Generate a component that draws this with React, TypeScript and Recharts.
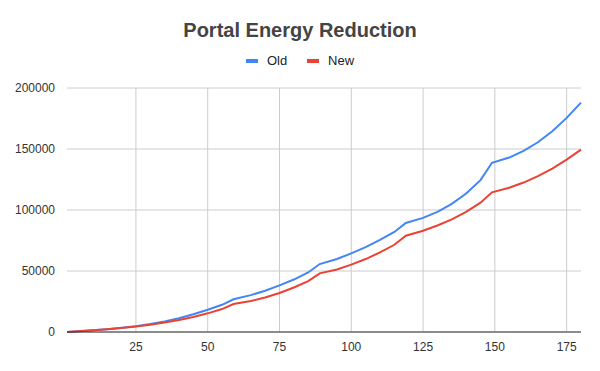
import { LineChart, Line, XAxis, YAxis, CartesianGrid } from 'recharts';

const levels = [1, 5, 10, 15, 20, 25, 30, 35, 40, 45, 50, 55, 59, 65, 70, 75, 80, 85, 89, 95, 100, 105, 110, 115, 119, 125, 130, 135, 140, 145, 149, 155, 160, 165, 170, 175, 180];

const oldEnergy = [100, 600, 1400, 2300, 3400, 4700, 6500, 8700, 11300, 14500, 18300, 22300, 26800, 30200, 33800, 38200, 43000, 48800, 55700, 59800, 64500, 69500, 75500, 82000, 89400, 93500, 98500, 105000, 113500, 124500, 138700, 143000, 148500, 155500, 164500, 175500, 188000];

const newEnergy = [100, 600, 1400, 2300, 3300, 4500, 5900, 7700, 9800, 12300, 15300, 18800, 22900, 25400, 28300, 32000, 36500, 41700, 48100, 51300, 55200, 59800, 65200, 71500, 78900, 83000, 87300, 92300, 98500, 106000, 114500, 118300, 122500, 127700, 134000, 141300, 149500];

const xTicks = [25, 50, 75, 100, 125, 150, 175];
const yTicks = [0, 50000, 100000, 150000, 200000];

const data = levels.map((x, i) => ({ x, old: oldEnergy[i], new: newEnergy[i] }));

const series = [
  { key: 'old', name: 'Old', color: '#4285F4' },
  { key: 'new', name: 'New', color: '#EA4335' },
];

const font = '"Liberation Sans", Arial, sans-serif';

function LegendBox() {
  return (
    <div style={{ position: 'absolute', top: 53, left: 0, width: 600, display: 'flex', justifyContent: 'center', gap: 20, fontFamily: font, fontSize: 13, color: '#222' }}>
      {series.map((s) => (
        <div key={s.key} style={{ display: 'flex', alignItems: 'center' }}>
          <span style={{ display: 'inline-block', width: 12, height: 4, background: s.color, marginRight: 9 }} />
          {s.name}
        </div>
      ))}
    </div>
  );
}

export default function App() {
  return (
    <div style={{ position: 'relative', width: 600, height: 371, background: '#fff' }}>
      <style>{'body{margin:0}'}</style>
      <div style={{ position: 'absolute', top: 19, left: 0, width: 600, textAlign: 'center', fontFamily: font, fontWeight: 700, fontSize: 20, color: '#444' }}>
        Portal Energy Reduction
      </div>
      <LegendBox />
      <LineChart width={600} height={371} data={data} margin={{ top: 88, right: 19, left: 0, bottom: 9 }}>
        <CartesianGrid stroke="#cccccc" horizontalValues={yTicks} verticalValues={xTicks} />
        <XAxis
          dataKey="x"
          type="number"
          domain={[1, 180]}
          ticks={xTicks}
          tickLine={false}
          axisLine={{ stroke: '#333' }}
          tick={{ fontSize: 12, fill: '#333', fontFamily: font }}
          tickMargin={4}
          height={30}
        />
        <YAxis
          width={67}
          domain={[0, 200000]}
          ticks={yTicks}
          tickLine={false}
          axisLine={false}
          tick={{ fontSize: 12, fill: '#333', fontFamily: font }}
          tickMargin={6}
        />
        {series.map((s) => (
          <Line key={s.key} type="linear" dataKey={s.key} name={s.name} stroke={s.color} strokeWidth={2} dot={false} isAnimationActive={false} />
        ))}
      </LineChart>
    </div>
  );
}
